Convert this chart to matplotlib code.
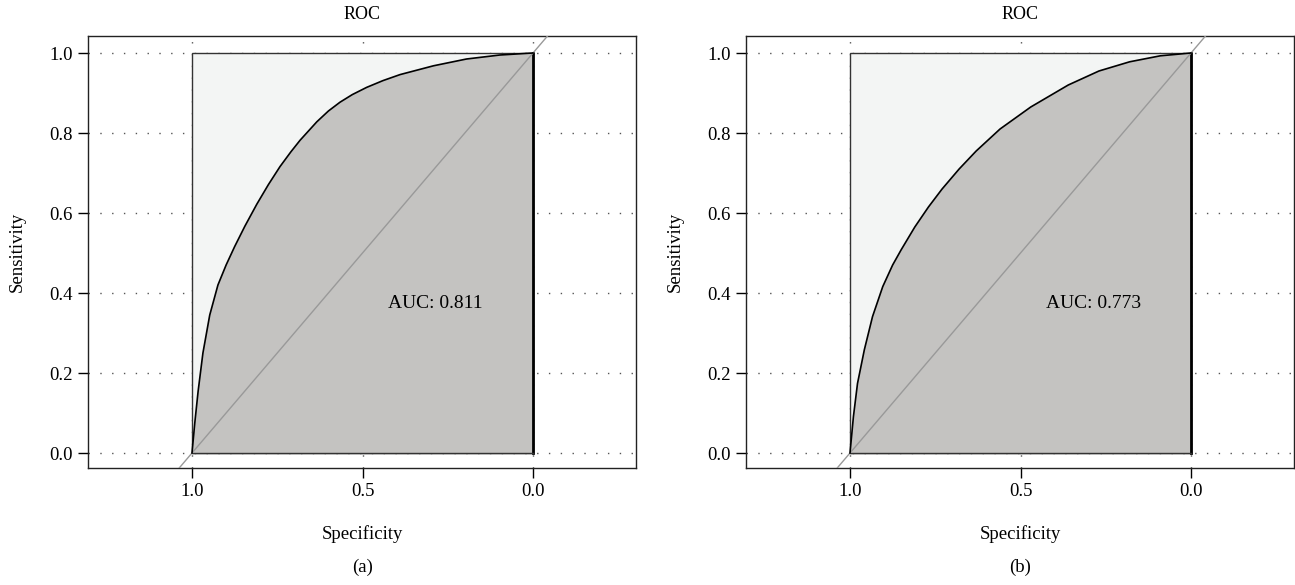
import numpy as np
import matplotlib
matplotlib.use("Agg")
import matplotlib.pyplot as plt
from matplotlib.patches import Polygon, Rectangle

plt.rcParams['font.family'] = ['Liberation Serif', 'DejaVu Serif']

#### DATA ####
# 1 - specificity and sensitivity along each ROC curve
fpr_a = [0, 0.008, 0.018, 0.032, 0.052, 0.076, 0.10, 0.125, 0.155, 0.19, 0.224,
         0.258, 0.29, 0.317, 0.366, 0.40, 0.434, 0.47, 0.512, 0.56, 0.61,
         0.708, 0.805, 0.903, 1.0]
sens_a = [0, 0.074, 0.155, 0.25, 0.345, 0.42, 0.47, 0.516, 0.567, 0.622, 0.671,
          0.716, 0.753, 0.782, 0.828, 0.855, 0.877, 0.896, 0.914, 0.931, 0.946,
          0.968, 0.985, 0.995, 1.0]

fpr_b = [0, 0.01, 0.022, 0.042, 0.066, 0.096, 0.125, 0.15, 0.19, 0.23, 0.27,
         0.32, 0.37, 0.44, 0.53, 0.64, 0.73, 0.82, 0.91, 1.0]
sens_b = [0, 0.091, 0.174, 0.258, 0.341, 0.416, 0.47, 0.508, 0.565, 0.615, 0.66,
          0.71, 0.755, 0.81, 0.865, 0.92, 0.955, 0.978, 0.993, 1.0]

auc_labels = ["AUC: 0.811", "AUC: 0.773"]
panel_labels = ["(a)", "(b)"]
x_ticks = [1.0, 0.5, 0.0]
y_ticks = [0.0, 0.2, 0.4, 0.6, 0.8, 1.0]

light = '#f3f5f4'
dark = '#c4c3c1'

W, H = 1295, 585
fig = plt.figure(figsize=(W / 100, H / 100), dpi=100)


def roc_panel(left, fpr, sens, auc_text, panel):
    ax = fig.add_axes([left / W, (H - 468) / H, 548 / W, 432 / H])
    ax.set_xlim(1.305, -0.302)
    ax.set_ylim(-0.0375, 1.0425)

    # dotted grid behind everything
    for yv in y_ticks:
        ax.axhline(yv, color='#555555', lw=1.0, ls=(0, (1, 7.5)), zorder=0)
    for xv in x_ticks:
        ax.axvline(xv, color='#555555', lw=1.0, ls=(0, (1, 7.5)), zorder=0)

    # max AUC rectangle
    ax.add_patch(Rectangle((0, 0), 1, 1, facecolor=light, edgecolor='#333333',
                           lw=1.0, zorder=1))

    spec = [1 - f for f in fpr]
    pts = list(zip(spec, sens)) + [(0, 0)]
    ax.add_patch(Polygon(pts, closed=True, facecolor=dark, edgecolor='none', zorder=2))
    ax.plot([0, 0], [1, 0], color='black', lw=2.0, zorder=3)
    ax.plot([1, 0], [0, 0], color='#333333', lw=1.0, zorder=3)

    # chance line
    ax.axline((1, 0), (0, 1), color='#999999', lw=1.0, zorder=3)

    ax.plot(spec, sens, color='black', lw=1.2, zorder=4, solid_joinstyle='round')

    ax.text(0.286, 0.375, auc_text, ha='center', va='center', fontsize=14, zorder=5)

    ax.set_xticks(x_ticks)
    ax.set_xticklabels(["1.0", "0.5", "0.0"])
    ax.set_yticks(y_ticks)
    ax.set_yticklabels(["%.1f" % v for v in y_ticks])
    ax.tick_params(direction='out', length=7, width=1.0, labelsize=13.5, pad=4)
    for sp in ax.spines.values():
        sp.set_linewidth(1.0)
        sp.set_color('#222222')

    ax.set_title("ROC", fontsize=13, pad=12)
    ax.set_xlabel("Specificity", fontsize=13.5, labelpad=18)
    ax.set_ylabel("Sensitivity", fontsize=13.5, labelpad=17)

    x_center = (left + 192 - 88 + 170.5) / W
    fig.text(x_center, 1 - 567 / H, panel, ha='center', va='center', fontsize=13.5)
    return ax


roc_panel(88, fpr_a, sens_a, auc_labels[0], panel_labels[0])
roc_panel(746, fpr_b, sens_b, auc_labels[1], panel_labels[1])

plt.savefig("out.png", dpi=100)
